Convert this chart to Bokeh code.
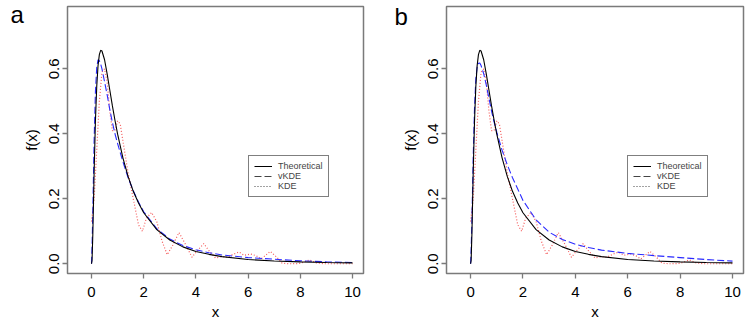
from bokeh.plotting import figure
from bokeh.layouts import row
from bokeh.models import Range1d, FixedTicker, PrintfTickFormatter, Legend, LegendItem, Label
from bokeh.embed import file_html
from bokeh.resources import INLINE

# ---- data ----
grid_x = [0, 0.02, 0.05, 0.1, 0.15, 0.2, 0.25, 0.3, 0.35, 0.4, 0.5, 0.6, 0.7, 0.8, 0.9, 1.0,
          1.2, 1.4, 1.6, 1.8, 2.0, 2.5, 3.0, 3.5, 4.0, 4.5, 5.0, 6.0, 7.0, 8.0, 9.0, 10.0]
theoretical = [0, 0.0095, 0.090, 0.282, 0.440, 0.546, 0.610, 0.644, 0.657, 0.655, 0.628, 0.584,
               0.535, 0.486, 0.441, 0.399, 0.327, 0.269, 0.223, 0.187, 0.157, 0.105, 0.073,
               0.052, 0.038, 0.029, 0.022, 0.013, 0.0086, 0.0057, 0.0040, 0.0028]
vkde_a = [0, 0.05, 0.16, 0.38, 0.53, 0.605, 0.628, 0.625, 0.615, 0.60, 0.56, 0.52, 0.475, 0.435,
          0.40, 0.37, 0.315, 0.265, 0.225, 0.19, 0.16, 0.108, 0.076, 0.056, 0.043, 0.034,
          0.027, 0.019, 0.014, 0.009, 0.006, 0.004]
vkde_b = [0, 0.04, 0.13, 0.33, 0.48, 0.57, 0.605, 0.617, 0.618, 0.61, 0.585, 0.55, 0.51, 0.47,
          0.435, 0.405, 0.35, 0.305, 0.265, 0.23, 0.195, 0.135, 0.097, 0.075, 0.06, 0.05,
          0.042, 0.032, 0.025, 0.019, 0.013, 0.008]
kde_x = [0, 0.1, 0.2, 0.3, 0.4, 0.5, 0.6, 0.7, 0.8, 0.9, 1.0, 1.1, 1.2, 1.4, 1.6, 1.8, 1.95,
         2.1, 2.3, 2.5, 2.7, 2.9, 3.1, 3.35, 3.6, 3.85, 4.05, 4.3, 4.5, 4.75, 5.0, 5.2, 5.45,
         5.65, 5.85, 6.1, 6.3, 6.5, 6.85, 7.1, 7.3, 7.6, 8.0, 8.35, 8.6, 8.9, 9.5, 10.0]
kde_y = [0.13, 0.2, 0.35, 0.5, 0.59, 0.6, 0.56, 0.47, 0.41, 0.41, 0.44, 0.43, 0.38, 0.28, 0.2,
         0.12, 0.1, 0.14, 0.158, 0.13, 0.07, 0.028, 0.055, 0.096, 0.06, 0.02, 0.04, 0.062, 0.04,
         0.018, 0.022, 0.02, 0.03, 0.036, 0.026, 0.03, 0.025, 0.015, 0.038, 0.02, 0.002, 0.0,
         0.001, 0.012, 0.003, 0.0, 0.0, 0.0]
x_ticks = [0, 2, 4, 6, 8, 10]
y_ticks = [0.0, 0.2, 0.4, 0.6]
legend_labels = ["Theoretical", "vKDE", "KDE"]
panel_tags = ["a", "b"]

FONT = "Liberation Sans"
FRAME = "#7a7a7a"
NAN = float("nan")


def make_panel(tag, vkde, width, left, right, tag_x, tag_y):
    p = figure(width=width, height=322, output_backend="svg", toolbar_location=None,
               x_range=Range1d(-0.92, 10.42), y_range=Range1d(-0.030, 0.792),
               min_border_left=left, min_border_right=right,
               min_border_top=6, min_border_bottom=49)
    p.xgrid.visible = False
    p.ygrid.visible = False
    p.outline_line_color = FRAME
    p.outline_line_width = 1.5
    p.background_fill_color = "white"
    p.border_fill_color = "white"

    for ax in (p.xaxis[0], p.yaxis[0]):
        ax.axis_line_color = None
        ax.major_tick_line_color = FRAME
        ax.major_tick_line_width = 1.3
        ax.minor_tick_line_color = None
        ax.major_tick_out = 5
        ax.major_tick_in = 0
        ax.major_label_text_font = FONT
        ax.major_label_text_font_size = "15px"
        ax.major_label_text_color = "black"
        ax.axis_label_text_font = FONT
        ax.axis_label_text_font_size = "15px"
        ax.axis_label_text_font_style = "normal"
        ax.axis_label_text_color = "black"

    p.xaxis.ticker = FixedTicker(ticks=x_ticks)
    p.yaxis.ticker = FixedTicker(ticks=y_ticks)
    p.yaxis.formatter = PrintfTickFormatter(format="%.1f")
    p.yaxis.major_label_orientation = "vertical"
    p.xaxis.axis_label = "x"
    p.yaxis.axis_label = "f(x)"
    p.xaxis.major_label_standoff = 8
    p.xaxis.axis_label_standoff = 3
    p.yaxis.major_label_standoff = 3
    p.yaxis.axis_label_standoff = 7

    p.line(kde_x, kde_y, line_color="#f55a5a", line_width=1.2, line_dash="1 2")
    p.line(grid_x, vkde, line_color="#2a2aff", line_width=1.1, line_dash="7 3")
    p.line(grid_x, theoretical, line_color="black", line_width=1.1)

    r1 = p.line([NAN], [NAN], line_color="black", line_width=1)
    r2 = p.line([NAN], [NAN], line_color="#444444", line_width=1, line_dash="7 3")
    r3 = p.line([NAN], [NAN], line_color="#444444", line_width=1, line_dash="1 2")
    leg = Legend(items=[LegendItem(label=legend_labels[0], renderers=[r1]),
                        LegendItem(label=legend_labels[1], renderers=[r2]),
                        LegendItem(label=legend_labels[2], renderers=[r3])],
                 location=(181, 76), orientation="vertical")
    leg.label_text_font = FONT
    leg.label_text_font_size = "9px"
    leg.label_height = 10
    leg.glyph_height = 10
    leg.glyph_width = 18
    leg.label_standoff = 6
    leg.padding = 5
    leg.spacing = 0
    leg.margin = 0
    leg.border_line_color = "black"
    leg.border_line_width = 1
    leg.background_fill_color = "white"
    leg.background_fill_alpha = 1
    p.add_layout(leg, "center")

    # panel tag, placed in the left side panel so that it is not clipped by the frame
    p.add_layout(Label(x=tag_x, y=tag_y, x_units="screen", y_units="screen", text=tag,
                       text_font=FONT, text_font_size="24px", text_color="black",
                       text_baseline="alphabetic", text_align="left"), "left")
    return p


pa = make_panel(panel_tags[0], vkde_a, 375, 67, 12, 4, 259)
pb = make_panel(panel_tags[1], vkde_b, 376, 71, 8, 9, 257)

layout = row(pa, pb, spacing=0)
open("out.html", "w").write(file_html(layout, INLINE))
